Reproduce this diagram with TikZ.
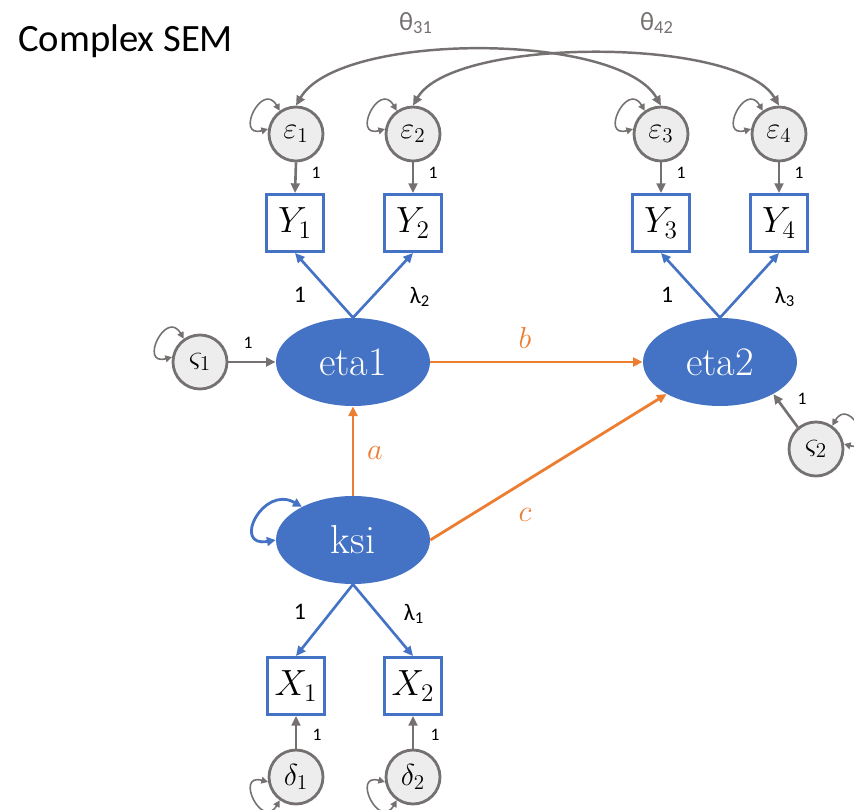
\documentclass[tikz,border=0pt]{standalone}
\usepackage{amsmath,amssymb}
\usepackage{fontspec}
\newfontfamily\labelfont{Carlito}
\usetikzlibrary{arrows.meta,shapes.geometric}
\definecolor{semblue}{HTML}{4472C4}
\definecolor{semorange}{HTML}{ED7D31}
\definecolor{semgrey}{HTML}{767171}
\definecolor{errfill}{HTML}{EDEDED}

\begin{document}
\begin{tikzpicture}[x=0.02cm,y=0.02cm,
  >={Triangle[length=5.5pt,width=5pt]},
  latent/.style={ellipse,fill=semblue,inner sep=0pt,minimum width=3.08cm,
    minimum height=1.76cm,text=white,font=\fontsize{23}{25}\selectfont},
  manifest/.style={rectangle,draw=semblue,line width=1.7pt,fill=white,
    minimum size=1.14cm,inner sep=0pt,font=\fontsize{21}{23}\selectfont},
  resid/.style={circle,draw=semgrey,fill=errfill,line width=1.6pt,
    minimum size=1.08cm,inner sep=0pt,font=\fontsize{17}{18}\selectfont},
  load/.style={->,draw=semblue,line width=1.5pt},
  regr/.style={->,draw=semorange,line width=1.6pt},
  errpath/.style={->,draw=semgrey,line width=1.5pt},
  varloop/.style={<->,draw=semgrey,line width=0.9pt,
    >={Triangle[length=3.8pt,width=3.8pt]}},
  cov/.style={<->,draw=semgrey,line width=1.4pt},
  lbl/.style={font=\labelfont\fontsize{13.5}{15}\selectfont,inner sep=1pt},
  smalllbl/.style={font=\labelfont\fontsize{10}{12}\selectfont,inner sep=1pt},
  coef/.style={text=semorange,font=\fontsize{18}{20}\selectfont,inner sep=1pt}]
  \useasboundingbox (0,0) rectangle (854,-810);

  \node[anchor=base west,font=\labelfont\fontsize{22}{26}\selectfont] (title) at (12,-52) {Complex SEM};

  % latent variables
  \node[latent] (eta1) at (353,-362) {eta1};
  \node[latent] (eta2) at (720,-362) {eta2};
  \node[latent] (ksi)  at (353,-540) {ksi};

  % indicators
  \node[manifest] (Y1) at (295,-223) {$Y_1$};
  \node[manifest] (Y2) at (413,-223) {$Y_2$};
  \node[manifest] (Y3) at (661,-223) {$Y_3$};
  \node[manifest] (Y4) at (779,-223) {$Y_4$};
  \node[manifest] (X1) at (296,-686) {$X_1$};
  \node[manifest] (X2) at (413,-686) {$X_2$};

  % residuals
  \node[resid] (e1) at (296,-134) {$\varepsilon_1$};
  \node[resid] (e2) at (413,-134) {$\varepsilon_2$};
  \node[resid] (e3) at (661,-134) {$\varepsilon_3$};
  \node[resid] (e4) at (779,-134) {$\varepsilon_4$};
  \node[resid] (z1) at (200,-362) {$\varsigma_1$};
  \node[resid] (z2) at (816,-449) {$\varsigma_2$};
  \node[resid] (d1) at (296,-777) {$\delta_1$};
  \node[resid] (d2) at (413,-777) {$\delta_2$};

  % loadings
  \draw[load] (eta1.north) -- (Y1.south);
  \draw[load] (eta1.north) -- (Y2.south);
  \draw[load] (eta2.north) -- (Y3.south);
  \draw[load] (eta2.north) -- (Y4.south);
  \draw[load] (ksi.south) -- (X1.north);
  \draw[load] (ksi.south) -- (X2.north);

  % structural paths
  \draw[regr] (eta1.east) -- (eta2.west);
  \draw[regr] (ksi.north) -- (eta1.south);
  \draw[regr] (ksi.east) -- (eta2.211);

  % residual paths
  \foreach \r/\t in {e1/Y1,e2/Y2,e3/Y3,e4/Y4}
    \draw[errpath] (\r.south) -- (\t.north);
  \foreach \r/\t in {d1/X1,d2/X2}
    \draw[errpath] (\r.north) -- (\t.south);
  \draw[errpath] (z1.east) -- (eta1.west);
  \draw[errpath] (z2.130) -- (eta2.-31);

  % variances
  \foreach \r in {e1,e2,e3,e4,z1}
    \draw[varloop] (\r.125) .. controls +(120:35) and +(195:35) .. (\r.170);
  \foreach \r in {d1,d2}
    \draw[varloop] (\r.190) .. controls +(165:35) and +(240:35) .. (\r.235);
  \draw[varloop] (z2.55) .. controls +(60:35) and +(-15:35) .. (z2.10);
  \draw[<->,draw=semblue,line width=1.6pt,>={Triangle[length=5pt,width=5pt]}]
    (ksi.147) .. controls +(150:45) and +(190:45) .. (ksi.west);

  % covariances
  \draw[cov] (e1.north) to[out=60,in=120,looseness=0.6] (e3.north);
  \draw[cov] (e2.north) to[out=60,in=120,looseness=0.56] (e4.north);
  \node[lbl,text=semgrey,font=\labelfont\fontsize{15}{16}\selectfont] (th31) at (416,-23) {θ\textsubscript{31}};
  \node[lbl,text=semgrey,font=\labelfont\fontsize{15}{16}\selectfont] (th42) at (657,-23) {θ\textsubscript{42}};

  % labels
  \node[lbl] (l11) at (300,-295) {1};
  \node[lbl] (l12) at (420,-297) {λ\textsubscript{2}};
  \node[lbl] (l23) at (667,-295) {1};
  \node[lbl] (l24) at (785,-297) {λ\textsubscript{3}};
  \node[lbl] (lx1) at (300,-612) {1};
  \node[lbl] (lx2) at (414,-614) {λ\textsubscript{1}};
  \foreach \x/\y [count=\i] in {316/173,433/173,681/173,799/173,248/343,802/399,317/735,435/735}
    \node[smalllbl] (s\i) at (\x,-\y) {1};
  \node[coef] (cb) at (525,-338) {$b$};
  \node[coef] (ca) at (375,-453) {$a$};
  \node[coef] (cc) at (525,-515) {$c$};
\end{tikzpicture}
\end{document}
